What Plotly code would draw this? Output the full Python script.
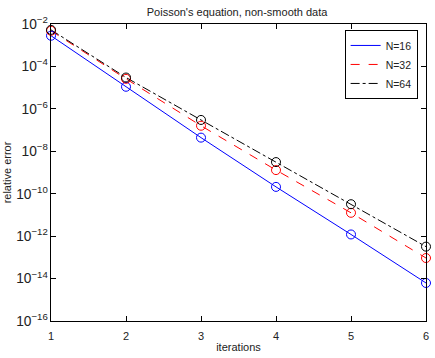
import plotly.graph_objects as go

iterations = [1, 2, 3, 4, 5, 6]
err_n16 = [2.8e-3, 1.1e-5, 4.4e-8, 2.1e-10, 1.2e-12, 6.2e-15]
err_n32 = [4.8e-3, 2.6e-5, 1.6e-7, 1.3e-9, 1.26e-11, 9.3e-14]
err_n64 = [5.3e-3, 3.0e-5, 3.0e-7, 3.1e-9, 3.2e-11, 3.2e-13]

series = [
    ("N=16", err_n16, "#0000FF", "solid"),
    ("N=32", err_n32, "#FF0000", "dash"),
    ("N=64", err_n64, "#000000", "dashdot"),
]

fig = go.Figure()
for name, ys, color, dash in series:
    fig.add_trace(go.Scatter(
        x=iterations, y=ys, mode="lines", name=name,
        line=dict(color=color, width=1, dash=dash),
    ))
for name, ys, color, dash in series:
    fig.add_trace(go.Scatter(
        x=iterations, y=ys, mode="markers", showlegend=False,
        marker=dict(symbol="circle-open", size=9, color=color, line=dict(width=1)),
        cliponaxis=False,
    ))

font = "Liberation Sans, Arial, sans-serif"
fig.update_layout(
    width=435, height=358,
    margin=dict(l=46, r=6, t=24, b=31),
    paper_bgcolor="white", plot_bgcolor="white",
    font=dict(family=font, size=11, color="#222222"),
    title=dict(text="Poisson's equation, non-smooth data", x=0.545, xanchor="center",
               y=0.967, yanchor="middle", font=dict(size=11, family=font)),
    showlegend=True,
    legend=dict(x=0.783, y=0.98, xanchor="left", yanchor="top",
                bordercolor="#000000", borderwidth=1, bgcolor="white",
                font=dict(size=10.5), tracegroupgap=0, itemwidth=30),
    xaxis=dict(range=[1, 6], dtick=1, tick0=1, showgrid=False, zeroline=False,
               showline=True, linecolor="#000000", linewidth=1, mirror="ticks",
               ticks="inside", ticklen=5, tickcolor="#000000", ticklabelstandoff=5,
               title=dict(text="iterations", standoff=2, font=dict(size=11))),
    yaxis=dict(type="log", range=[-16, -2], dtick=2, showgrid=False, zeroline=False,
               exponentformat="power", showexponent="all",
               showline=True, linecolor="#000000", linewidth=1, mirror="ticks",
               ticks="inside", ticklen=5, tickcolor="#000000",
               title=dict(text="relative error", standoff=2, font=dict(size=11))),
)

fig.write_html("out.html")
